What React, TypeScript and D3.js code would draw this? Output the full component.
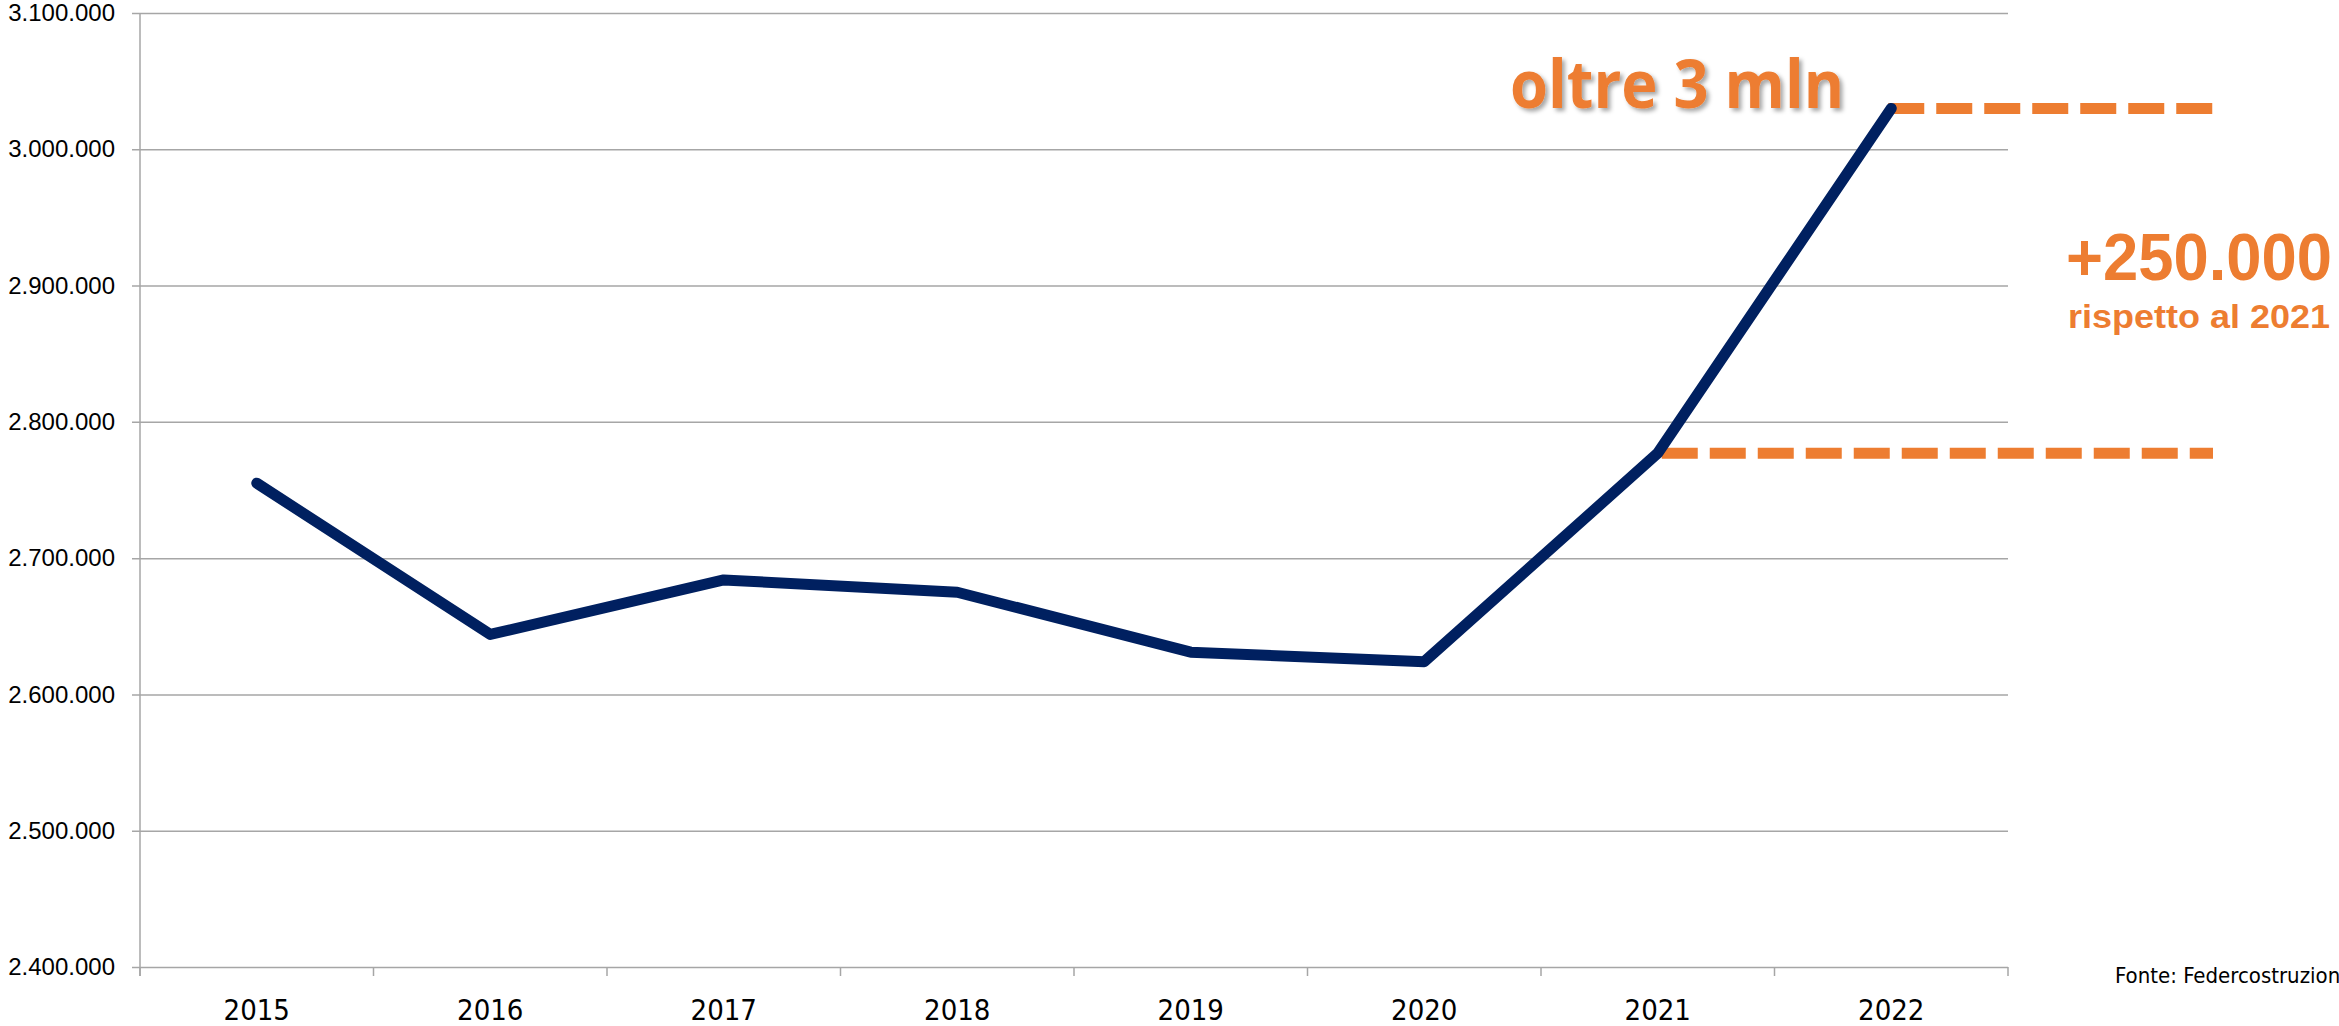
import React, { useRef, useEffect } from 'react';
import * as d3 from 'd3';

const years = ['2015', '2016', '2017', '2018', '2019', '2020', '2021', '2022'];
const values = [2755000, 2644000, 2684000, 2675000, 2631000, 2624000, 2777000, 3030000];
const yTicks = [2400000, 2500000, 2600000, 2700000, 2800000, 2900000, 3000000, 3100000];
const topNote = 'oltre 3 mln';
const diffNote = '+250.000';
const diffSub = 'rispetto al 2021';
const source = 'Fonte: Federcostruzioni';

const W = 2339, H = 1026;
const orange = '#ED7D31';
const navy = '#002060';

function App() {
  const ref = useRef<SVGSVGElement>(null);

  useEffect(() => {
    const svg = d3.select(ref.current);
    svg.selectAll('*').remove();

    const left = 140, right = 2008, top = 13, bottom = 967;

    const x = d3.scaleBand().domain(years).range([left, right]).padding(0);
    const y = d3.scaleLinear().domain([2400000, 3100000]).range([bottom, top]);

    const it = d3.formatLocale({ decimal: ',', thousands: '.', grouping: [3], currency: ['€', ''] });
    const fmt = it.format(',');

    const defs = svg.append('defs');
    const f = defs.append('filter').attr('id', 'shadow').attr('x', '-10%').attr('y', '-20%').attr('width', '130%').attr('height', '150%');
    f.append('feDropShadow').attr('dx', 3).attr('dy', 3).attr('stdDeviation', 2).attr('flood-color', '#000').attr('flood-opacity', 0.35);

    // gridlines + y axis
    const yAxis = d3.axisLeft(y).tickValues(yTicks).tickFormat((d) => fmt(d as number))
      .tickSize(-(right - left)).tickSizeOuter(0).tickPadding(25);
    const gy = svg.append('g').attr('transform', `translate(${left},0)`).call(yAxis);
    gy.select('.domain').remove();
    gy.selectAll('.tick line').attr('stroke', '#a6a6a6').attr('stroke-width', 1.5).attr('x1', -8);
    gy.selectAll('.tick text').attr('font-family', '"Liberation Sans", Arial, sans-serif')
      .attr('font-size', 24).attr('fill', '#000');

    svg.append('line').attr('x1', left).attr('x2', left).attr('y1', top).attr('y2', bottom + 9)
      .attr('stroke', '#a6a6a6').attr('stroke-width', 1.5);

    // x axis ticks at band boundaries
    const bounds = years.map((d) => x(d) as number).concat([right]);
    svg.append('g').selectAll('line').data(bounds).enter().append('line')
      .attr('x1', (d) => d).attr('x2', (d) => d).attr('y1', bottom).attr('y2', bottom + 9)
      .attr('stroke', '#a6a6a6').attr('stroke-width', 1.5);

    svg.append('g').selectAll('text').data(years).enter().append('text')
      .attr('x', (d) => (x(d) as number) + x.bandwidth() / 2)
      .attr('y', 1020)
      .attr('text-anchor', 'middle')
      .attr('font-family', '"Liberation Sans Narrow", "DejaVu Sans Condensed", "Open Sans", sans-serif')
      .attr('font-size', 29)
      .attr('fill', '#000')
      .text((d) => d);

    // dashed reference lines
    const cx = (i: number) => (x(years[i]) as number) + x.bandwidth() / 2;
    const dashEnd = 2213;
    svg.append('line').attr('x1', cx(7) - 3).attr('x2', dashEnd)
      .attr('y1', y(values[7])).attr('y2', y(values[7]))
      .attr('stroke', orange).attr('stroke-width', 11).attr('stroke-dasharray', '36 12');
    svg.append('line').attr('x1', cx(6) + 4).attr('x2', dashEnd)
      .attr('y1', y(values[6])).attr('y2', y(values[6]))
      .attr('stroke', orange).attr('stroke-width', 11).attr('stroke-dasharray', '36 12');

    // main line
    const line = d3.line<number>()
      .x((d, i) => cx(i))
      .y((d) => y(d));
    svg.append('path').datum(values).attr('d', line)
      .attr('fill', 'none').attr('stroke', navy).attr('stroke-width', 11)
      .attr('stroke-linejoin', 'round').attr('stroke-linecap', 'round');

    // annotations
    svg.append('text').attr('x', 1510).attr('y', 108)
      .attr('font-family', '"Liberation Sans Narrow", "Open Sans", "Liberation Sans", sans-serif')
      .attr('font-weight', 'bold').attr('font-size', 66).attr('fill', orange)
      .attr('textLength', 334).attr('lengthAdjust', 'spacingAndGlyphs')
      .attr('filter', 'url(#shadow)')
      .text(topNote);

    svg.append('text').attr('x', 2066).attr('y', 280)
      .attr('font-family', '"Liberation Sans", Arial, sans-serif')
      .attr('font-weight', 'bold').attr('font-size', 66).attr('fill', orange)
      .attr('textLength', 266).attr('lengthAdjust', 'spacingAndGlyphs')
      .text(diffNote);

    svg.append('text').attr('x', 2068).attr('y', 328)
      .attr('font-family', '"Liberation Sans", Arial, sans-serif')
      .attr('font-weight', 'bold').attr('font-size', 33).attr('fill', orange)
      .attr('textLength', 262).attr('lengthAdjust', 'spacingAndGlyphs')
      .text(diffSub);

    svg.append('text').attr('x', 2115).attr('y', 983)
      .attr('font-family', '"Liberation Sans Narrow", "DejaVu Sans Condensed", "Open Sans", sans-serif')
      .attr('font-size', 22).attr('fill', '#000')
      .text(source);
  }, []);

  return (
    <svg ref={ref} width={W} height={H}
      style={{ position: 'absolute', left: 0, top: 0, background: '#fff', overflow: 'hidden' }} />
  );
}

export default App;
